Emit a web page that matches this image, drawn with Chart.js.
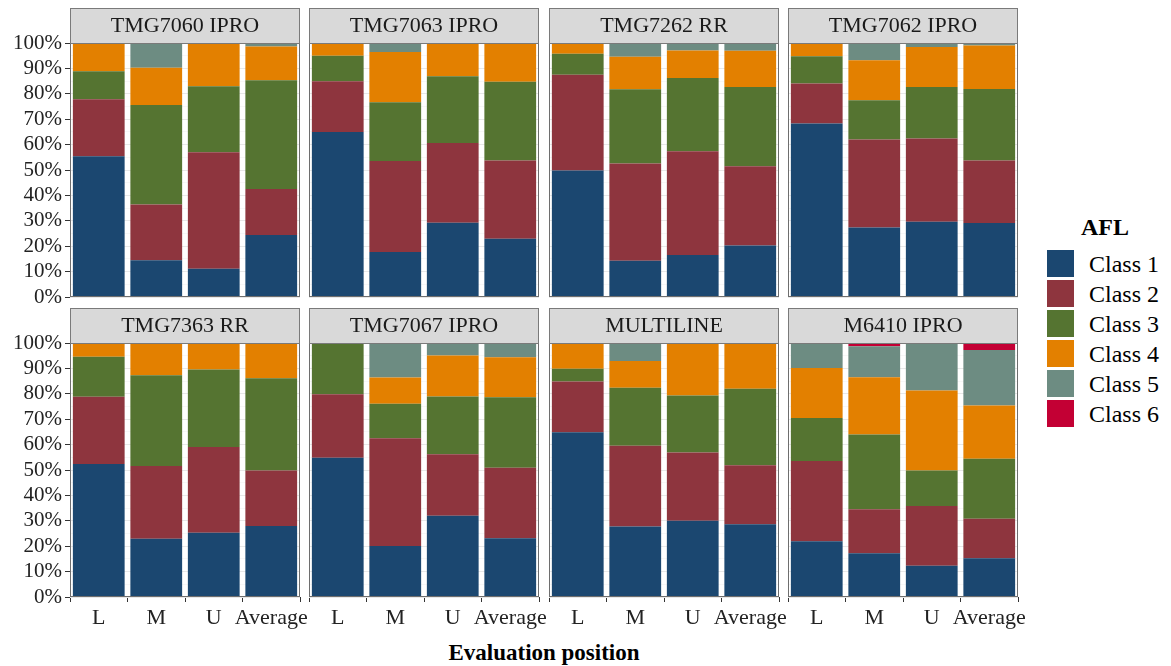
<!DOCTYPE html>
<html><head><meta charset="utf-8">
<script src="https://cdn.jsdelivr.net/npm/chart.js@4/dist/chart.umd.min.js"></script>
<style>
body{margin:0;background:#fff;width:1171px;height:666px;position:relative;overflow:hidden;font-family:"Liberation Serif","Times New Roman",serif;}
canvas{position:absolute;}
.lg-title{position:absolute;left:1060px;width:90px;text-align:center;top:212px;font-weight:bold;font-size:24px;line-height:30px;color:#000;}
.sw{position:absolute;left:1047px;width:27px;height:27px;}
.lb{position:absolute;left:1089px;font-size:24px;line-height:30px;color:#000;}
.xt{position:absolute;left:294px;width:500px;text-align:center;top:639px;font-weight:bold;font-size:23px;line-height:28px;color:#000;}
</style>
</head><body>
<div class="xt">Evaluation position</div>
<div id="legend"></div>
<script>
const categories = ['L', 'M', 'U', 'Average'];
const panels = ['TMG7060 IPRO', 'TMG7063 IPRO', 'TMG7262 RR', 'TMG7062 IPRO',
                'TMG7363 RR', 'TMG7067 IPRO', 'MULTILINE', 'M6410 IPRO'];
const classNames = ['Class 1', 'Class 2', 'Class 3', 'Class 4', 'Class 5', 'Class 6'];
const classColors = ['#1B4770', '#8E353E', '#557431', '#E38000', '#6D8C82', '#C30034'];
const yTickValues = [0, 10, 20, 30, 40, 50, 60, 70, 80, 90, 100];

// values (%) per panel, per category [L, M, U, Average]
const class1 = [[55.4,14.5,11.1,24.4],[65.0,17.7,29.2,22.9],[49.8,14.3,16.5,20.3],[68.3,27.4,29.6,29.1],
                [52.4,22.9,25.3,28.0],[54.8,20.1,32.0,23.1],[64.9,27.8,30.0,28.6],[21.9,17.2,12.3,15.3]];
const class2 = [[22.5,21.9,45.9,18.1],[19.9,35.8,31.4,30.8],[37.7,38.3,40.9,31.2],[15.8,34.6,32.8,24.6],
                [26.4,28.7,33.8,21.8],[25.0,42.4,24.2,27.8],[19.9,31.7,26.9,23.3],[31.6,17.3,23.5,15.5]];
const class3 = [[11.0,39.2,26.0,42.8],[10.1,23.2,26.3,31.0],[8.3,29.2,28.8,31.2],[10.7,15.5,20.3,28.2],
                [15.8,35.7,30.5,36.3],[20.2,13.6,22.7,27.7],[5.1,22.9,22.4,30.1],[17.0,29.5,14.0,23.6]];
const class4 = [[11.1,14.7,17.0,13.3],[5.0,19.8,13.1,15.3],[4.2,12.8,10.8,14.2],[5.2,15.7,15.7,17.1],
                [5.4,12.7,10.4,13.9],[0,10.3,16.2,15.8],[10.1,10.5,20.7,18.0],[19.7,22.5,31.5,21.0]];
const class5 = [[0,9.7,0,1.4],[0,3.5,0,0],[0,5.4,3.0,3.1],[0,6.8,1.6,1.0],
                [0,0,0,0],[0,13.6,4.9,5.6],[0,7.1,0,0],[9.8,12.2,18.7,21.8]];
const class6 = [[0,0,0,0],[0,0,0,0],[0,0,0,0],[0,0,0,0],
                [0,0,0,0],[0,0,0,0],[0,0,0,0],[0,1.3,0,2.8]];
const classData = [class1, class2, class3, class4, class5, class6];

const FONT = '"Liberation Serif", "Times New Roman", serif';
const colLeft = [70, 309, 549, 788];
const rowTop = [43, 343];
const PW = 230, PH = 254;
const PADL = 75, PADR = 45, PADT = 40, PADB = 45;

const decoPlugin = {
  id: 'deco',
  afterDatasetsDraw(chart, args, opts) {
    const ctx = chart.ctx, a = chart.chartArea;
    ctx.save();
    ctx.strokeStyle = '#6e6e6e';
    ctx.lineWidth = 1;
    ctx.strokeRect(a.left + 0.5, a.top + 0.5, a.right - a.left - 1, a.bottom - a.top - 1);
    const sh = 35;
    ctx.fillStyle = '#D9D9D9';
    ctx.fillRect(a.left, a.top - sh, a.right - a.left, sh);
    ctx.strokeStyle = '#7a7a7a';
    ctx.strokeRect(a.left + 0.5, a.top - sh + 0.5, a.right - a.left - 1, sh);
    ctx.fillStyle = '#1a1a1a';
    ctx.font = '22px ' + FONT;
    ctx.textAlign = 'center';
    ctx.textBaseline = 'middle';
    ctx.fillText(opts.label, (a.left + a.right) / 2, a.top - sh / 2 + 1);
    ctx.restore();
  }
};

panels.forEach((name, i) => {
  const r = Math.floor(i / 4), c = i % 4;
  const cv = document.createElement('canvas');
  const W = PW + PADL + PADR, H = PH + PADT + PADB;
  cv.width = W; cv.height = H;
  cv.style.width = W + 'px'; cv.style.height = H + 'px';
  cv.style.left = (colLeft[c] - PADL) + 'px';
  cv.style.top = (rowTop[r] - PADT) + 'px';
  document.body.appendChild(cv);
  const showY = c === 0, showX = r === 1;
  new Chart(cv, {
    type: 'bar',
    data: {
      labels: categories,
      datasets: classNames.map((cn, k) => ({
        label: cn,
        data: classData[k][i],
        backgroundColor: classColors[k],
        borderWidth: 0,
        barPercentage: 0.9,
        categoryPercentage: 1.0,
        stack: 's'
      }))
    },
    options: {
      responsive: false,
      animation: false,
      devicePixelRatio: 1,
      layout: { padding: { left: showY ? 5 : PADL, right: PADR, top: PADT, bottom: showX ? 5 : PADB } },
      plugins: { legend: { display: false }, tooltip: { enabled: false }, title: { display: false },
                 deco: { label: name } },
      scales: {
        x: {
          stacked: true,
          offset: true,
          afterFit: s => { s.height = showX ? 40 : 0; },
          border: { display: false },
          grid: { drawOnChartArea: false, drawTicks: showX, tickLength: 5, tickColor: '#333', tickWidth: 1 },
          ticks: { display: showX, color: '#222', font: { family: FONT, size: 22 }, padding: 3, maxRotation: 0, autoSkip: false }
        },
        y: {
          stacked: true,
          min: 0, max: 100,
          afterFit: s => { s.width = showY ? 70 : 0; },
          afterBuildTicks: s => {
            const t = [];
            for (let v = 0; v <= 100; v += 5) t.push({ value: v });
            s.ticks = t;
          },
          border: { display: false },
          grid: {
            drawTicks: showY,
            tickLength: 5,
            tickColor: ctx => (ctx.tick && yTickValues.includes(ctx.tick.value)) ? '#333' : 'rgba(0,0,0,0)',
            color: ctx => (ctx.tick && yTickValues.includes(ctx.tick.value)) ? '#E8E8E8' : '#F2F2F2',
            lineWidth: ctx => (ctx.tick && yTickValues.includes(ctx.tick.value)) ? 1 : 0.6
          },
          ticks: {
            display: showY,
            autoSkip: false,
            padding: 3,
            color: '#222',
            font: { family: FONT, size: 21 },
            callback: v => yTickValues.includes(v) ? v + '%' : ''
          }
        }
      }
    },
    plugins: [decoPlugin]
  });
});

const lg = document.getElementById('legend');
const t = document.createElement('div');
t.className = 'lg-title'; t.textContent = 'AFL';
lg.appendChild(t);
classNames.forEach((cn, k) => {
  const sw = document.createElement('div');
  sw.className = 'sw';
  sw.style.top = (250 + 30 * k) + 'px';
  sw.style.background = classColors[k];
  lg.appendChild(sw);
  const lb = document.createElement('div');
  lb.className = 'lb';
  lb.style.top = (249 + 30 * k) + 'px';
  lb.textContent = cn;
  lg.appendChild(lb);
});
</script>
</body></html>
